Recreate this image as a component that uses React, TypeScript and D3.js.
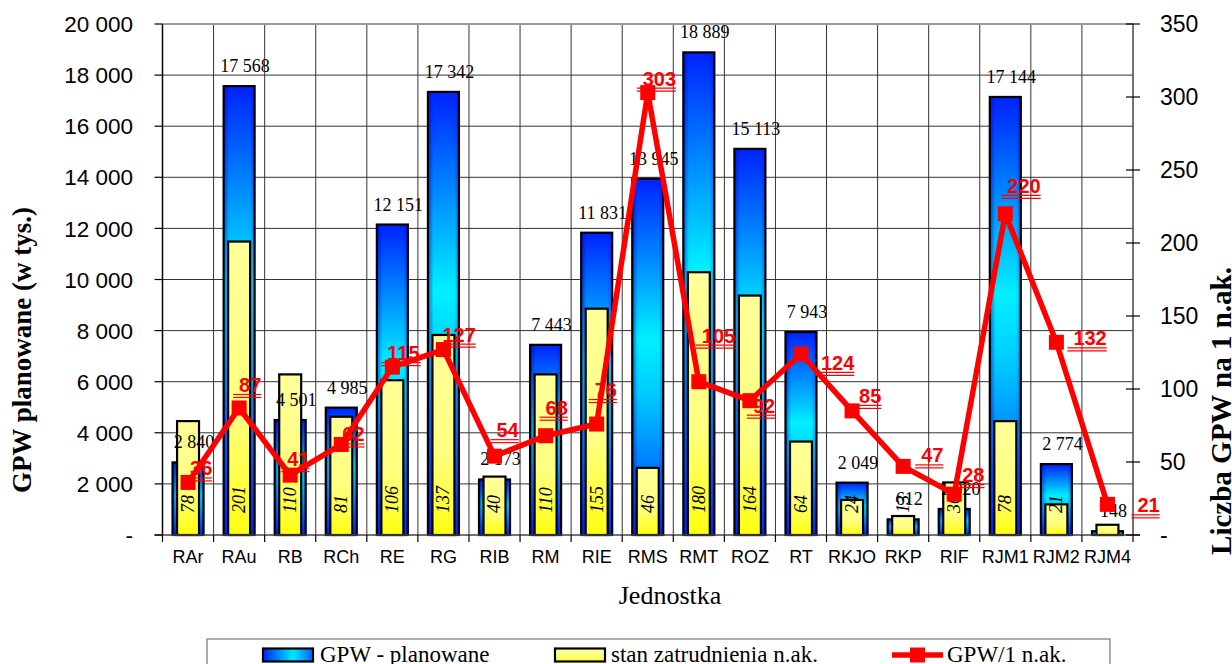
import React from 'react';
import * as d3 from 'd3';

const categories = ['RAr','RAu','RB','RCh','RE','RG','RIB','RM','RIE','RMS','RMT','ROZ','RT','RKJO','RKP','RIF','RJM1','RJM2','RJM4'];
const gpwPlanned = [2840,17568,4501,4985,12151,17342,2173,7443,11831,13945,18889,15113,7943,2049,612,1020,17144,2774,148];
const employment = [78,201,110,81,106,137,40,110,155,46,180,164,64,24,13,36,78,21,7];
const gpwPerEmployee = [36,87,41,62,115,127,54,68,76,303,105,92,124,85,47,28,220,132,21];
const leftTicks = [0,2000,4000,6000,8000,10000,12000,14000,16000,18000,20000];
const rightTicks = [0,50,100,150,200,250,300,350];

// annotation nudges (px) for the ratio labels, relative to each point
const ratioLabelNudge: [number, number][] = [
  [2,-7],[0,-16],[-3,-9],[1,-3],[-5,-7],[-1,-8],[2,-19],[0,-21],[-2,-27],[-5,-7],
  [3,-39],[3,12],[20,16],[7,-8],[18,-4],[8,-12],[2,-21],[17,3],[30,8]
];

const W = 1232, H = 664;
const L = 162.5, R = 1133, T = 24, B = 535;
const SANS = '"Liberation Sans", Arial, sans-serif';
const SERIF = '"Liberation Serif", "Times New Roman", serif';

const fmt = (v: number) => (v === 0 ? '-' : d3.format(',')(v).replace(/,/g, ' '));

export default function App() {
  const x = d3.scaleBand<string>().domain(categories).range([L, R]).padding(0);
  const bw = x.bandwidth();
  const yL = d3.scaleLinear().domain([0, 20000]).range([B, T]);
  const yR = d3.scaleLinear().domain([0, 350]).range([B, T]);
  const cx = (i: number) => (x(categories[i]) as number) + bw / 2;
  const blueW = bw * 0.607;
  const yelW = bw * 0.43;

  const pts: [number, number][] = gpwPerEmployee.map((v, i) => [cx(i), yR(v)]);
  const line = d3.line()(pts) || '';

  const gridY = leftTicks.filter(t => t > 0 && t < 20000);
  const bounds = d3.range(categories.length + 1).map(i => L + i * bw);

  return (
    <svg width={W} height={H} style={{ position: 'absolute', left: 0, top: 0, background: '#fff' }}>
      <defs>
        <linearGradient id="blueG" x1="0" y1="0" x2="0" y2="1">
          <stop offset="0" stopColor="#0022ff" />
          <stop offset="0.45" stopColor="#00f0ff" />
          <stop offset="0.6" stopColor="#00ccff" />
          <stop offset="1" stopColor="#0030ff" />
        </linearGradient>
        <linearGradient id="blueH" x1="0" y1="0" x2="1" y2="0">
          <stop offset="0" stopColor="#0000cc" stopOpacity="0.55" />
          <stop offset="0.18" stopColor="#0000cc" stopOpacity="0" />
          <stop offset="0.85" stopColor="#0000cc" stopOpacity="0" />
          <stop offset="1" stopColor="#0000cc" stopOpacity="0.35" />
        </linearGradient>
        <linearGradient id="yelG" x1="0" y1="0" x2="0" y2="1">
          <stop offset="0" stopColor="#ffff99" />
          <stop offset="0.6" stopColor="#ffff80" />
          <stop offset="1" stopColor="#ffff10" />
        </linearGradient>
        <linearGradient id="blueLeg" x1="0" y1="0" x2="1" y2="0">
          <stop offset="0" stopColor="#0022ff" />
          <stop offset="0.6" stopColor="#00e8ff" />
          <stop offset="1" stopColor="#0060ff" />
        </linearGradient>
      </defs>

      {/* grid */}
      {gridY.map(t => (
        <line key={'gy' + t} x1={L} x2={R} y1={yL(t)} y2={yL(t)} stroke="#333" strokeWidth={1} />
      ))}
      {bounds.slice(1, -1).map((b, i) => (
        <line key={'gx' + i} x1={b} x2={b} y1={T} y2={B} stroke="#333" strokeWidth={1} />
      ))}
      <line x1={L} x2={R} y1={T} y2={T} stroke="#999" strokeWidth={2} />

      {/* blue bars */}
      {gpwPlanned.map((v, i) => (
        <g key={'b' + i}>
          <rect x={cx(i) - blueW / 2} y={yL(v)} width={blueW} height={B - yL(v)} fill="url(#blueG)" />
          <rect x={cx(i) - blueW / 2} y={yL(v)} width={blueW} height={B - yL(v)} fill="url(#blueH)" stroke="#000" strokeWidth={2.2} />
        </g>
      ))}
      {/* yellow bars */}
      {employment.map((v, i) => (
        <rect key={'y' + i} x={cx(i) - yelW / 2} y={yR(v)} width={yelW} height={B - yR(v)} fill="url(#yelG)" stroke="#000" strokeWidth={2.2} />
      ))}

      {/* blue bar labels */}
      {gpwPlanned.map((v, i) => (
        <text key={'bl' + i} x={cx(i) + 6} y={yL(v) - 14} textAnchor="middle" fontFamily={SERIF} fontSize={18} fill="#000">{fmt(v)}</text>
      ))}
      {/* yellow bar labels */}
      {employment.map((v, i) => (
        <text key={'yl' + i} transform={`translate(${cx(i)},${B - 22}) rotate(-90)`} dy="0.33em" textAnchor="start" fontFamily={SERIF} fontStyle="italic" fontSize={18} fill="#000">{v}</text>
      ))}

      {/* axes */}
      <line x1={L} x2={L} y1={T} y2={B} stroke="#000" strokeWidth={1.5} />
      <line x1={R} x2={R} y1={T} y2={B} stroke="#444" strokeWidth={1.5} />
      <line x1={L - 8} x2={R + 7} y1={B} y2={B} stroke="#444" strokeWidth={1.5} />
      {leftTicks.map(t => (
        <g key={'lt' + t}>
          <line x1={L - 8} x2={L} y1={yL(t)} y2={yL(t)} stroke="#000" strokeWidth={1.2} />
          <text x={133} y={yL(t)} dy="0.36em" textAnchor="end" fontFamily={SANS} fontSize={22.5} fill="#000">{fmt(t)}</text>
        </g>
      ))}
      {rightTicks.map(t => (
        <g key={'rt' + t}>
          <line x1={R - 7} x2={R + 7} y1={yR(t)} y2={yR(t)} stroke="#000" strokeWidth={1.2} />
          <text x={1160} y={yR(t)} dy="0.36em" textAnchor="start" fontFamily={SANS} fontSize={23} fill="#000">{fmt(t)}</text>
        </g>
      ))}
      {bounds.map((b, i) => (
        <line key={'bt' + i} x1={b} x2={b} y1={B} y2={B + 7} stroke="#000" strokeWidth={1.2} />
      ))}
      {categories.map((c, i) => (
        <text key={'xl' + i} x={cx(i)} y={563} textAnchor="middle" fontFamily={SANS} fontSize={18} fill="#000">{c}</text>
      ))}

      {/* ratio line */}
      <path d={line} fill="none" stroke="#ff0000" strokeWidth={5.5} strokeLinejoin="round" />
      {pts.map(([px, py], i) => (
        <rect key={'m' + i} x={px - 7.5} y={py - 7.5} width={15} height={15} fill="#ff0000" />
      ))}
      {gpwPerEmployee.map((v, i) => {
        const [px, py] = pts[i];
        const tx = px + ratioLabelNudge[i][0];
        const ty = py + ratioLabelNudge[i][1];
        const tw = String(v).length * 11.1;
        return (
          <g key={'rl' + i}>
            <text x={tx} y={ty} fontFamily={SANS} fontWeight="bold" fontSize={20} fill="#ff0000">{v}</text>
            <line x1={tx - 6} x2={tx + tw} y1={ty + 2.5} y2={ty + 2.5} stroke="#ff0000" strokeWidth={1.2} />
            <line x1={tx - 6} x2={tx + tw} y1={ty + 5.5} y2={ty + 5.5} stroke="#ff0000" strokeWidth={1.2} />
          </g>
        );
      })}

      {/* titles */}
      <text x={670} y={604} textAnchor="middle" fontFamily={SERIF} fontSize={26} fill="#000">Jednostka</text>
      <text transform="translate(31,350) rotate(-90)" textAnchor="middle" fontFamily={SERIF} fontWeight="bold" fontSize={27} fill="#000">GPW planowane (w tys.)</text>
      <text transform="translate(1231,411) rotate(-90)" textAnchor="middle" fontFamily={SERIF} fontWeight="bold" fontSize={29} fill="#000">Liczba GPW na 1 n.ak.</text>

      {/* legend */}
      <rect x={207} y={639} width={903} height={40} fill="#fff" stroke="#777" strokeWidth={1.2} />
      <rect x={263} y={648.5} width={50} height={13} fill="url(#blueLeg)" stroke="#000" strokeWidth={2.2} />
      <text x={320} y={662} fontFamily={SERIF} fontSize={23} fill="#000">GPW - planowane</text>
      <rect x={555} y={648.5} width={50} height={13} fill="url(#yelG)" stroke="#000" strokeWidth={2.2} />
      <text x={611} y={662} fontFamily={SERIF} fontSize={23} fill="#000">stan zatrudnienia n.ak.</text>
      <line x1={892} x2={943} y1={655} y2={655} stroke="#ff0000" strokeWidth={5.5} />
      <rect x={910} y={647.5} width={15} height={15} fill="#ff0000" />
      <text x={947} y={662} fontFamily={SERIF} fontSize={23} fill="#000">GPW/1 n.ak.</text>
    </svg>
  );
}
